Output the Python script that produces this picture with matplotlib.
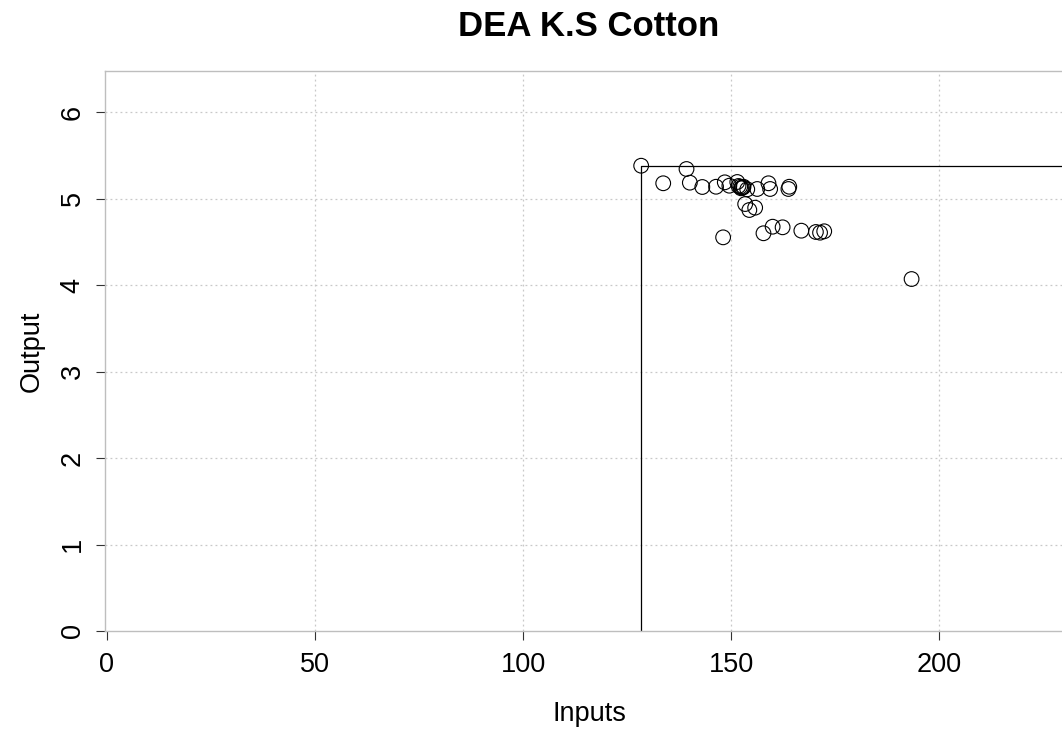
import numpy as np
import matplotlib
matplotlib.use("Agg")
import matplotlib.pyplot as plt

plt.rcParams['font.family'] = ['Liberation Sans', 'DejaVu Sans']

# input and output per farm
inputs = np.array([
    128.4, 139.3, 133.7, 140.1, 143.1, 146.4, 148.5, 149.6, 151.5, 152.2,
    152.6, 153.0, 151.8, 152.4, 152.9, 153.9, 156.3, 159.0, 159.4, 164.0,
    163.8, 153.4, 154.4, 155.8, 148.1, 157.8, 160.0, 162.4, 166.9, 170.4,
    171.4, 172.4, 193.4,
])
outputs = np.array([
    5.379, 5.341, 5.176, 5.183, 5.133, 5.136, 5.187, 5.148, 5.191, 5.136,
    5.125, 5.136, 5.145, 5.118, 5.128, 5.106, 5.110, 5.176, 5.110, 5.136,
    5.110, 4.936, 4.867, 4.894, 4.551, 4.598, 4.674, 4.667, 4.628, 4.613,
    4.605, 4.621, 4.069,
])

xticks = [0, 50, 100, 150, 200]
yticks = [0, 1, 2, 3, 4, 5, 6]

fig = plt.figure(figsize=(10.62, 7.29), dpi=100)
ax = fig.add_axes([105 / 1062, 1 - 631 / 729, 968 / 1062, 560 / 729])

ax.set_xlim(-0.48, 232.2)
ax.set_ylim(0, 6.474)

# grid
for v in xticks[1:]:
    ax.axvline(v, color='#c8c8c8', lw=0.9, ls=(0, (1.5, 2.5)), zorder=0)
for v in yticks[1:]:
    ax.axhline(v, color='#c8c8c8', lw=0.9, ls=(0, (1.5, 2.5)), zorder=0)

# frontier: best input up to best output, then flat
x0 = inputs.min()
y0 = outputs.max()
xr = ax.get_xlim()[1]
ax.plot([x0, x0, xr], [0, y0, y0], color='black', lw=0.9, zorder=2)

ax.scatter(inputs, outputs, s=112, facecolors='none', edgecolors='black',
           linewidths=0.8, zorder=3)

for side in ['left', 'bottom', 'top']:
    ax.spines[side].set_color('#bebebe')
    ax.spines[side].set_linewidth(1.0)
ax.spines['right'].set_visible(False)

ax.set_xticks(xticks)
ax.set_yticks(yticks)
ax.tick_params(axis='both', direction='out', length=6.5, width=0.8,
               color='#333333', labelsize=19.5)
ax.tick_params(axis='x', pad=8.5)
ax.tick_params(axis='y', labelrotation=90, pad=7.5)
for lab in ax.get_yticklabels():
    lab.set_va('center')

ax.set_xlabel('Inputs', fontsize=19.5, labelpad=17)
ax.set_ylabel('Output', fontsize=19.5, labelpad=11)
ax.set_title('DEA K.S Cotton', fontsize=25, fontweight='bold', pad=25)

fig.savefig('out.png', dpi=100)
